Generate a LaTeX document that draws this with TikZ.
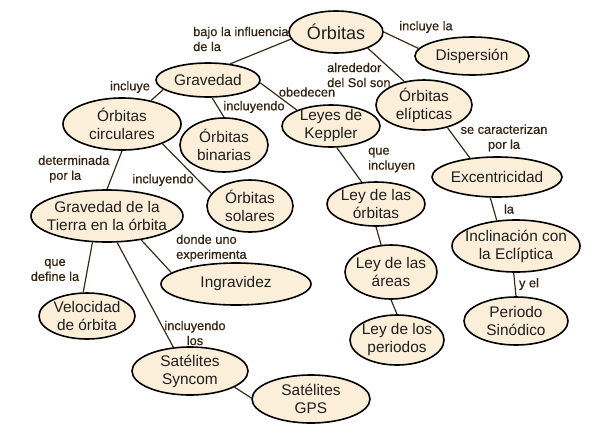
\documentclass[tikz,border=0pt]{standalone}
\usepackage{fontspec}
\setmainfont{Liberation Sans}
\newfontfamily\labfont{Liberation Sans}[FakeBold=0.6]
\usetikzlibrary{shapes.geometric}
\definecolor{nodefill}{HTML}{FCEFD9}
\definecolor{labtext}{HTML}{33230F}
\definecolor{linec}{HTML}{3B2A17}
\tikzset{
  concept/.style={ellipse, draw=black, line width=1.6pt, fill=nodefill, inner sep=-30pt,
    align=center, font=\fontsize{15.4}{18}\selectfont, text=black!88},
  lab/.style={inner sep=0pt, font=\labfont\fontsize{12.8}{15}\selectfont, text=labtext},
  link/.style={draw=linec, line width=1.2pt}
}
\newcommand{\cnode}[5]{\node[concept, minimum width=#3pt, minimum height=#4pt] (#1) at (#2) {#5};}
\begin{document}
\begin{tikzpicture}[x=1pt,y=-1pt]
\useasboundingbox (0,0) rectangle (601,437);
% concepts
\node[concept, minimum width=94pt, minimum height=42pt, font=\fontsize{18}{20}\selectfont] (orb) at (336,32) {Órbitas};
\cnode{disp}{472,56}{114}{38}{Dispersión}
\cnode{grav}{208,80}{104}{34}{Gravedad}
\cnode{circ}{122,124}{118}{52}{Órbitas\\circulares}
\cnode{bin}{224,145}{88}{54}{Órbitas\\binarias}
\cnode{sol}{250,206}{86}{52}{Órbitas\\solares}
\cnode{kep}{331,126}{98}{42}{Leyes de\\Keppler}
\cnode{elip}{424,105}{96}{50}{Órbitas\\elípticas}
\cnode{exc}{497,177}{130}{40}{Excentricidad}
\cnode{lorb}{376,204}{98}{44}{Ley de las\\órbitas}
\cnode{area}{391,272}{92}{54}{Ley de las\\áreas}
\cnode{per}{397,340}{94}{50}{Ley de los\\periodos}
\cnode{incl}{516,246}{128}{52}{Inclinación con\\la Eclíptica}
\cnode{sino}{516,321}{104}{48}{Periodo\\Sinódico}
\cnode{gps}{311,399}{118}{48}{Satélites\\GPS}
\cnode{sync}{190,371}{116}{48}{Satélites\\Syncom}
\cnode{tierra}{107,216}{152}{52}{Gravedad de la\\Tierra en la órbita}
\cnode{vel}{87,316}{96}{46}{Velocidad\\de órbita}
\cnode{ingr}{236,284}{150}{42}{Ingravidez}
% links
\path[link] (orb.189) -- (grav.36);
\path[link] (orb.0) -- (disp.172);
\path[link] (orb.333) -- (elip.130);
\path[link] (grav.192) -- (circ.39);
\path[link] (grav.283) -- (bin.90);
\path[link] (grav.357) -- (kep.155);
\path[link] (circ.270) -- (tierra.90);
\path[link] (circ.334) -- (sol.162);
\path[link] (tierra.241) -- (vel.99);
\path[link] (tierra.325) -- (ingr.170);
\path[link] (tierra.291) -- (sync.125);
\path[link] (sync.340) -- (gps.179);
\path[link] (kep.285) -- (lorb.123);
\path[link] (lorb.270) -- (area.110);
\path[link] (area.270) -- (per.90);
\path[link] (elip.316) -- (exc.145);
\path[link] (exc.252) -- (incl.127);
\path[link] (incl.265) -- (sino.90);
% labels
\node[lab, anchor=west, align=left] (l1) at (193,39) {bajo la influencia\\de la};
\node[lab] (l2) at (426,27) {incluye la};
\node[lab, anchor=west, align=left] (l3) at (327,75) {alrededor\\del Sol son};
\node[lab] (l4) at (307,92) {obedecen};
\node[lab] (l5) at (130,87) {incluye};
\node[lab] (l6) at (254,107) {incluyendo};
\node[lab, anchor=west, align=left] (l7) at (38,169) {determinada\\\hspace{11pt}por la};
\node[lab] (l8) at (163,180) {incluyendo};
\node[lab, anchor=west, align=left] (l9) at (176,248) {donde uno\\experimenta};
\node[lab, align=center] (l10) at (55,270) {que\\define la};
\node[lab, align=center] (l11) at (195,333) {incluyendo\\los};
\node[lab, anchor=west, align=left] (l12) at (368,160) {que\\incluyen};
\node[lab, align=center] (l13) at (504,138) {se caracterizan\\por la};
\node[lab] (l14) at (509,209) {la};
\node[lab] (l15) at (529,284) {y el};
\end{tikzpicture}
\end{document}
